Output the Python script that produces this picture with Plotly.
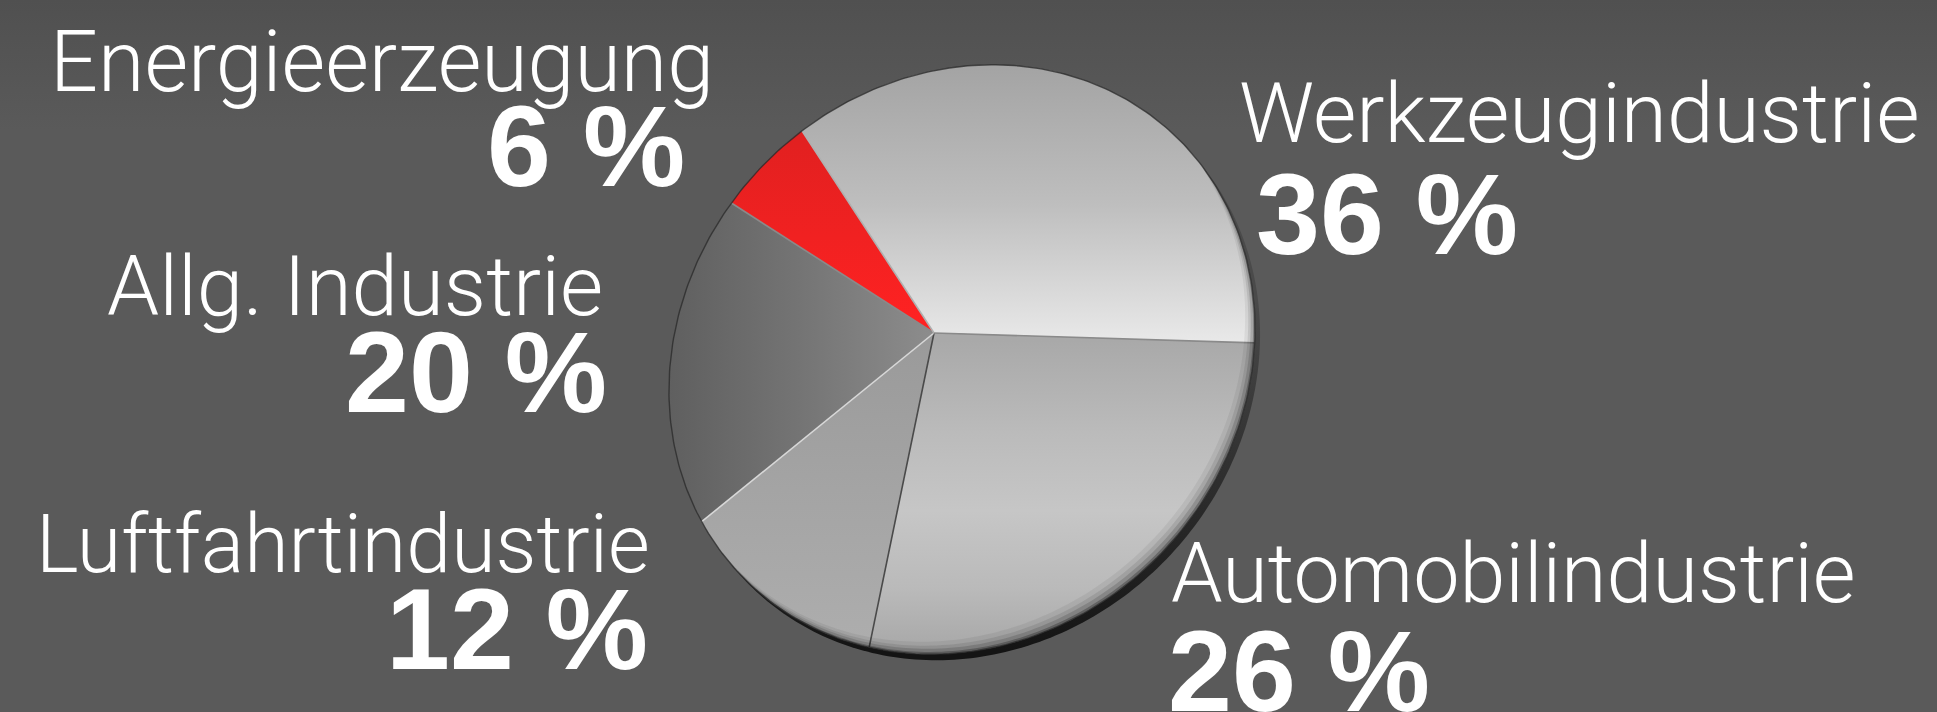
import math
import plotly.graph_objects as go

# ---- data ----
categories = ["Werkzeugindustrie", "Automobilindustrie", "Luftfahrtindustrie", "Allg. Industrie", "Energieerzeugung"]
values = [36, 26, 12, 20, 6]
value_labels = ["36 %", "26 %", "12 %", "20 %", "6 %"]

# ---- styling / layout ----
W, H = 1937, 712
CX, CY = 962.0, 359.5
R_MAJOR, R_MINOR = 309.0, 278.0
HUB = (934.0, 333.0)
START_FROM_TILT = 12.0
slice_gradients = [
    dict(type="vertical", start=68, stop=340, colorscale=[[0, "#a4a4a4"], [0.5, "#bebebe"], [1, "#e8e8e8"]]),
    dict(type="vertical", start=340, stop=650,
         colorscale=[[0, "#a9a9a9"], [0.3, "#bbbbbb"], [0.55, "#c6c6c6"], [0.8, "#bababa"], [1, "#a8a8a8"]]),
    dict(type="vertical", start=340, stop=640, colorscale=[[0, "#9a9a9a"], [0.5, "#a4a4a4"], [1, "#adadad"]]),
    dict(type="horizontal", start=668, stop=930, colorscale=[[0, "#5f5f5f"], [0.5, "#747474"], [1, "#8c8c8c"]]),
    dict(type="vertical", start=140, stop=330, colorscale=[[0, "#e22020"], [1, "#ff2222"]]),
]
sep_colors = ["#8a8a8a", "#4a4a4a", "#d8d8d8", "#8a8a8a", "#b0b0b0"]

label_sizes = [83.9, 82.7, 80.8, 83.5, 84.4]
LIGHT = dict(family="Roboto", color="white", weight=300)
BOLD = dict(family="Liberation Sans", size=115, color="white", weight=700)
# label anchor per category: (x, xanchor, baseline y, value x, value baseline y)
placement = [
    (1239, "left", 143, 1256, 253),
    (1171, "left", 603, 1168, 710),
    (650, "right", 573, 648, 668),
    (603, "right", 316, 607, 411),
    (714, "right", 93, 685, 185),
]

dx, dy = HUB[0] - CX, HUB[1] - CY
dist = math.hypot(dx, dy)
beta = dist / R_MINOR
ax, ay = dx / dist, dy / dist
tilt_angle = math.degrees(math.atan2(ax, -ay))


def project(angle_deg, r=1.0):
    """Tilt the unit disc: its centre lands on the hub, its rim on the ellipse."""
    t = math.radians(angle_deg)
    px, py = r * math.sin(t), -r * math.cos(t)
    u = px * ax + py * ay
    v = -px * ay + py * ax
    d = 1 + beta * u
    u2 = R_MINOR * (u + beta) / d
    v2 = R_MAJOR * v * math.sqrt(1 - beta * beta) / d
    return CX + u2 * ax - v2 * ay, CY + u2 * ay + v2 * ax


fig = go.Figure()
# background
fig.add_trace(go.Scatter(x=[0, W, W, 0, 0], y=[0, 0, H, H, 0], mode="none", fill="toself",
                         fillgradient=dict(type="vertical", start=0, stop=130,
                                           colorscale=[[0, "#505050"], [1, "#5a5a5a"]]),
                         hoverinfo="skip", showlegend=False))
# disc thickness
rim = [project(a) for a in range(0, 361)]
fig.add_trace(go.Scatter(x=[p[0] + 5 for p in rim], y=[p[1] + 6 for p in rim],
                         mode="none", fill="toself",
                         fillgradient=dict(type="vertical", start=300, stop=650,
                                           colorscale=[[0, "#4a4a4a"], [1, "#141414"]]),
                         hoverinfo="skip", showlegend=False))
# slices
total = sum(values)
angle = tilt_angle + START_FROM_TILT
bounds = []
for cat, val, grad in zip(categories, values, slice_gradients):
    span = 360.0 * val / total
    steps = max(2, int(span))
    xs, ys = [HUB[0]], [HUB[1]]
    for i in range(steps + 1):
        x, y = project(angle + span * i / steps)
        xs.append(x)
        ys.append(y)
    xs.append(HUB[0])
    ys.append(HUB[1])
    fig.add_trace(go.Scatter(x=xs, y=ys, mode="none", fill="toself", fillgradient=grad,
                             name=cat, hoverinfo="name", showlegend=False))
    angle += span
    bounds.append(angle)
# slice separators
for b, col in zip(bounds, sep_colors):
    x, y = project(b)
    fig.add_trace(go.Scatter(x=[HUB[0], x], y=[HUB[1], y], mode="lines", line=dict(color=col, width=1.6),
                             hoverinfo="skip", showlegend=False))
# bevel shading along the lower right rim: stacked crescents that taper at their ends
SE = (0.62, 0.78)
lower_rim = [p for p in rim if (p[0] - CX) * SE[0] + (p[1] - CY) * SE[1] > 0]
for shift, alpha in [(16, 0.06), (11, 0.09), (7, 0.14), (3, 0.25)]:
    inner = [(p[0] - shift * SE[0], p[1] - shift * SE[1]) for p in reversed(lower_rim)]
    outline = lower_rim + inner + lower_rim[:1]
    fig.add_trace(go.Scatter(x=[p[0] for p in outline], y=[p[1] for p in outline], mode="none", fill="toself",
                             fillcolor=f"rgba(0,0,0,{alpha})", hoverinfo="skip", showlegend=False))
# rim line
fig.add_trace(go.Scatter(x=[p[0] for p in rim], y=[p[1] for p in rim],
                         mode="lines", line=dict(color="rgba(40,40,40,0.75)", width=1.4),
                         hoverinfo="skip", showlegend=False))


def label(text, x, anchor, baseline, font, up):
    fig.add_annotation(text=text, x=x, y=baseline - up * font["size"], xref="x", yref="y", xanchor=anchor,
                       yanchor="middle", showarrow=False, font=font, borderpad=0, borderwidth=0)


for cat, vlab, size, (lx, anc, lb, vx, vb) in zip(categories, value_labels, label_sizes, placement):
    label(cat, lx, anc, lb, dict(LIGHT, size=size), 0.356)
    label(vlab, vx, anc, vb, BOLD, 0.335)

fig.update_layout(width=W, height=H, margin=dict(l=0, r=0, t=0, b=0, pad=0), autosize=False,
                  paper_bgcolor="#585858", plot_bgcolor="#585858",
                  xaxis=dict(range=[0, W], visible=False, fixedrange=True),
                  yaxis=dict(range=[H, 0], visible=False, fixedrange=True))
fig.write_html("out.html", config=dict(displayModeBar=False),
               post_script="document.body.style.margin='0';document.body.style.background='#585858';")
